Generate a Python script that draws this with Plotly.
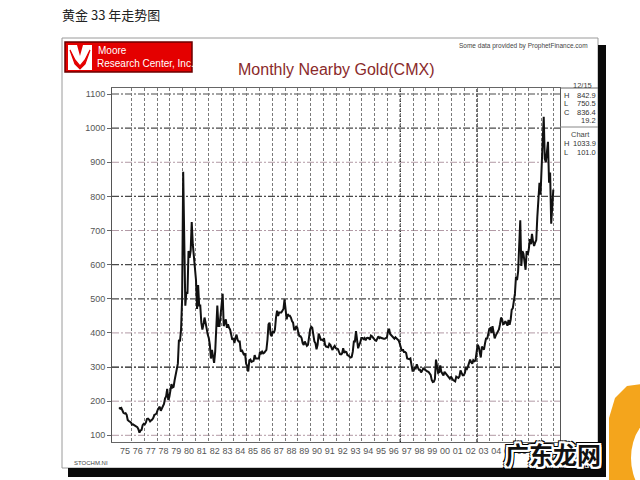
import plotly.graph_objects as go

# ---------------- data ----------------
start_year = 1975
prices_1975_1979 = [
    182, 178, 180, 170, 166, 164, 165, 160, 145, 142, 139, 138,
    131, 132, 130, 128, 126, 124, 118, 108, 114, 116, 130, 134,
    132, 137, 148, 149, 146, 141, 144, 146, 151, 160, 161, 164,
    174, 180, 184, 172, 178, 184, 192, 208, 214, 236, 204, 212,
    232, 250, 240, 242, 262, 280, 296, 310, 380, 375, 410, 500,
]
prices_1980s = [
    872, 650, 480, 520, 515, 640, 620, 640, 725, 660, 620, 590,
    555, 470, 540, 480, 480, 430, 410, 425, 445, 430, 410, 395,
    385, 365, 325, 350, 330, 312, 345, 440, 480, 420, 420, 450,
    485, 515, 420, 435, 440, 415, 425, 415, 410, 395, 380, 385,
    370, 385, 395, 380, 375, 375, 345, 350, 340, 335, 340, 310,
    303, 287, 320, 322, 315, 318, 318, 335, 325, 325, 325, 325,
    345, 340, 345, 340, 342, 345, 350, 380, 425, 430, 395, 390,
    405, 400, 410, 445, 465, 450, 460, 460, 460, 465, 470, 498,
    470, 440, 455, 450, 450, 445, 435, 430, 410, 410, 420, 415,
    400, 390, 390, 385, 370, 365, 375, 365, 362, 365, 390, 410,
]
prices_1990s = [
    418, 415, 395, 375, 370, 352, 365, 398, 390, 380, 380, 378,
    385, 365, 360, 358, 358, 368, 365, 357, 350, 358, 362, 355,
    355, 353, 345, 338, 337, 340, 355, 342, 345, 344, 335, 334,
    330, 328, 330, 345, 375, 375, 405, 375, 355, 365, 372, 385,
    385, 382, 385, 378, 385, 386, 385, 380, 392, 390, 385, 380,
    378, 377, 383, 390, 385, 387, 385, 383, 383, 383, 386, 387,
    405, 412, 397, 393, 392, 385, 383, 387, 383, 381, 378, 369,
    355, 347, 352, 344, 344, 341, 325, 324, 323, 325, 306, 289,
    289, 297, 296, 308, 299, 292, 292, 284, 289, 296, 294, 291,
    287, 287, 286, 282, 277, 262, 256, 257, 265, 322, 293, 283,
]
prices_2000s = [
    285, 305, 286, 280, 275, 286, 282, 275, 274, 270, 266, 272,
    266, 262, 260, 258, 272, 270, 268, 273, 290, 283, 276, 276,
    282, 296, 294, 302, 314, 322, 314, 310, 320, 317, 319, 340,
    365, 360, 340, 328, 360, 356, 351, 370, 385, 382, 395, 412,
    414, 400, 420, 395, 384, 392, 398, 405, 410, 425, 445, 440,
    424, 428, 434, 429, 421, 438, 424, 438, 468, 472, 490, 515,
    565, 555, 580, 650, 730, 596, 640, 632, 598, 585, 640, 629,
    645, 675, 660, 690, 667, 655, 665, 672, 740, 790, 840, 805,
    910, 960, 1033, 910, 900, 930, 960, 840, 870, 720, 780, 820,
]
year_labels = ["75", "76", "77", "78", "79", "80", "81", "82", "83", "84",
               "85", "86", "87", "88", "89", "90", "91", "92", "93", "94",
               "95", "96", "97", "98", "99", "00", "01", "02", "03", "04",
               "05", "06"]
price_levels = [100, 200, 300, 400, 500, 600, 700, 800, 900, 1000, 1100]
level_tone = ["mauve", "mauve", "black", "mauve", "dark", "dark",
              "mauve", "dark", "mauve", "dark", "dark"]
heavy_years = [1997, 2003]
quote_rows = [("H", "842.9"), ("L", "750.5"), ("C", "836.4"), ("", "19.2")]
chart_rows = [("H", "1033.9"), ("L", "101.0")]

prices = prices_1975_1979 + prices_1980s + prices_1990s + prices_2000s
months = [start_year + (i + 0.5) / 12 for i in range(len(prices))]
label_pos = [start_year + i + 0.5 for i in range(len(year_labels))]
year_lines = list(range(start_year + 1, 2010))

# ---------------- layout helpers (pixel -> paper) ----------------
L, R, T, B = 112, 560, 88, 442
def px(x):
    return (x - L) / (R - L)
def py(y):
    return (B - y) / (B - T)
def path(points):
    return "M " + " L ".join(f"{px(x):.5f},{py(y):.5f}" for x, y in points) + " Z"

FONT = "Liberation Sans, Arial, sans-serif"
NARROW = "Liberation Sans Narrow, Arial Narrow, sans-serif"
tone_color = {"dark": "#4a4a4a", "mauve": "#b39aa6", "black": "#1a1a1a"}

fig = go.Figure()
fig.add_trace(go.Scatter(x=months, y=prices, mode="lines",
                         line=dict(color="#111111", width=2),
                         hoverinfo="skip", showlegend=False))

shapes = []
# outer frame and shadow
shapes.append(dict(type="rect", xref="paper", yref="paper",
                   x0=px(62), x1=px(598), y0=py(468), y1=py(38),
                   line=dict(color="#9a9a9a", width=1), fillcolor="white", layer="below"))
shapes.append(dict(type="rect", xref="paper", yref="paper",
                   x0=px(598), x1=px(606), y0=py(477), y1=py(45),
                   line=dict(width=0), fillcolor="#0a0a0a"))
shapes.append(dict(type="rect", xref="paper", yref="paper",
                   x0=px(68), x1=px(606), y0=py(477), y1=py(468),
                   line=dict(width=0), fillcolor="#0a0a0a"))
# horizontal grid (dash-dot)
for lv, tone in zip(price_levels, level_tone):
    shapes.append(dict(type="line", xref="paper", yref="y", x0=0, x1=1, y0=lv, y1=lv,
                       line=dict(color=tone_color[tone], width=1.2 if tone != "mauve" else 1,
                                 dash="7px,2px,2px,2px"), layer="below"))
# heavier vertical lines
for yr in heavy_years:
    shapes.append(dict(type="line", xref="x", yref="paper", x0=yr, x1=yr, y0=0, y1=1,
                       line=dict(color="#1a1a1a", width=1.3, dash="3px,2px"), layer="below"))
# right quote panel
shapes.append(dict(type="line", xref="paper", yref="paper", x0=1, x1=px(598), y0=1, y1=1,
                   line=dict(color="#666", width=1)))
shapes.append(dict(type="line", xref="paper", yref="paper", x0=1, x1=px(598),
                   y0=py(127), y1=py(127), line=dict(color="#888", width=1)))
# logo
shapes.append(dict(type="rect", xref="paper", yref="paper",
                   x0=px(65), x1=px(192), y0=py(72), y1=py(42),
                   line=dict(color="#6a0000", width=1.5), fillcolor="#e40000"))
shapes.append(dict(type="path", xref="paper", yref="paper",
                   path=path([(68, 45), (77, 45), (80, 56), (83, 45), (92, 45),
                              (92, 70), (68, 70)]),
                   line=dict(width=0), fillcolor="white"))
shapes.append(dict(type="path", xref="paper", yref="paper",
                   path=path([(70, 50), (75, 60), (80, 66), (85, 60), (90, 50),
                              (85, 64), (80, 69), (75, 64)]),
                   line=dict(color="#e40000", width=1.2), fillcolor="#e40000"))
# orange corner logo
shapes.append(dict(type="path", xref="paper", yref="paper",
                   path=path([(641, 384), (627, 386), (615, 398), (609, 418),
                              (609, 481), (641, 481)]),
                   line=dict(width=0), fillcolor="#f4a51c"))
shapes.append(dict(type="circle", xref="paper", yref="paper",
                   x0=px(631), x1=px(690), y0=py(500), y1=py(416),
                   line=dict(width=0), fillcolor="white"))

annotations = []
def ann(text, x, y, size, color="#333", xanchor="center", family=FONT, **kw):
    annotations.append(dict(text=text, x=px(x), y=py(y), xref="paper", yref="paper",
                            xanchor=xanchor, yanchor="middle", showarrow=False,
                            font=dict(family=family, size=size, color=color, **kw)))

ann("黄金 33 年走势图", 60, 14, 13, "#222", "left", "Noto Sans CJK SC")
ann("Monthly Nearby Gold(CMX)", 336, 70, 16, "#8a2a2a")
ann("Some data provided by ProphetFinance.com", 590, 46, 6.5, "#444", "right")
ann("Moore", 96, 51, 10, "white", "left", NARROW)
ann("Research Center, Inc.", 95, 64, 10, "white", "left", NARROW)
ann("12/15", 582, 85, 7.5, "#444")
for i, (k, v) in enumerate(quote_rows):
    yy = 95 + i * 8.5
    if k:
        ann(k, 562, yy, 7.5, "#333", "left")
    ann(v, 598, yy, 7.5, "#333", "right")
ann("Chart", 580, 134, 7.5, "#444")
for i, (k, v) in enumerate(chart_rows):
    yy = 143 + i * 9
    ann(k, 562, yy, 7.5, "#333", "left")
    ann(v, 598, yy, 7.5, "#333", "right")
ann("STOCHM.NI", 72, 463, 6, "#444", "left")
ann("Monthly", 574, 466, 5.5, "#444")
outline = ", ".join(f"{dx}px {dy}px 0 #fff" for dx in (-2, 0, 2) for dy in (-2, 0, 2)
                    if (dx, dy) != (0, 0))
outline += ", " + ", ".join(f"{dx}px {dy}px 0 #000" for dx in (-3, 0, 3) for dy in (-3, 0, 3)
                            if (dx, dy) != (0, 0))
ann("广东龙网", 553, 453, 24, "#111", "center", "Noto Sans CJK SC",
    weight="bold", shadow=outline)

fig.update_layout(
    width=640, height=480, autosize=False,
    margin=dict(l=L, r=640 - R, t=T, b=480 - B, pad=0),
    paper_bgcolor="white", plot_bgcolor="rgba(0,0,0,0)",
    hovermode=False, showlegend=False,
    shapes=shapes, annotations=annotations,
    xaxis=dict(range=[1974.48, 2009.48], tickmode="array", tickvals=label_pos,
               ticktext=year_labels, ticks="", showgrid=False, zeroline=False,
               showline=True, mirror=True, linecolor="#666", linewidth=1,
               tickfont=dict(family=FONT, size=9, color="#555"),
               minor=dict(tickmode="array", tickvals=year_lines, showgrid=True,
                          gridcolor="#7a7a7a", gridwidth=1, griddash="3px,2px", ticks="")),
    yaxis=dict(range=[80.4, 1117.6], tickmode="array", tickvals=price_levels,
               ticks="outside", ticklen=4, tickcolor="#666", showgrid=False,
               zeroline=False, showline=True, mirror=True, linecolor="#555", linewidth=1,
               tickfont=dict(family=FONT, size=9, color="#555")),
)

fig.write_html("out.html", config={"displayModeBar": False},
               post_script="document.body.style.margin='0';document.body.style.overflow='hidden';")
